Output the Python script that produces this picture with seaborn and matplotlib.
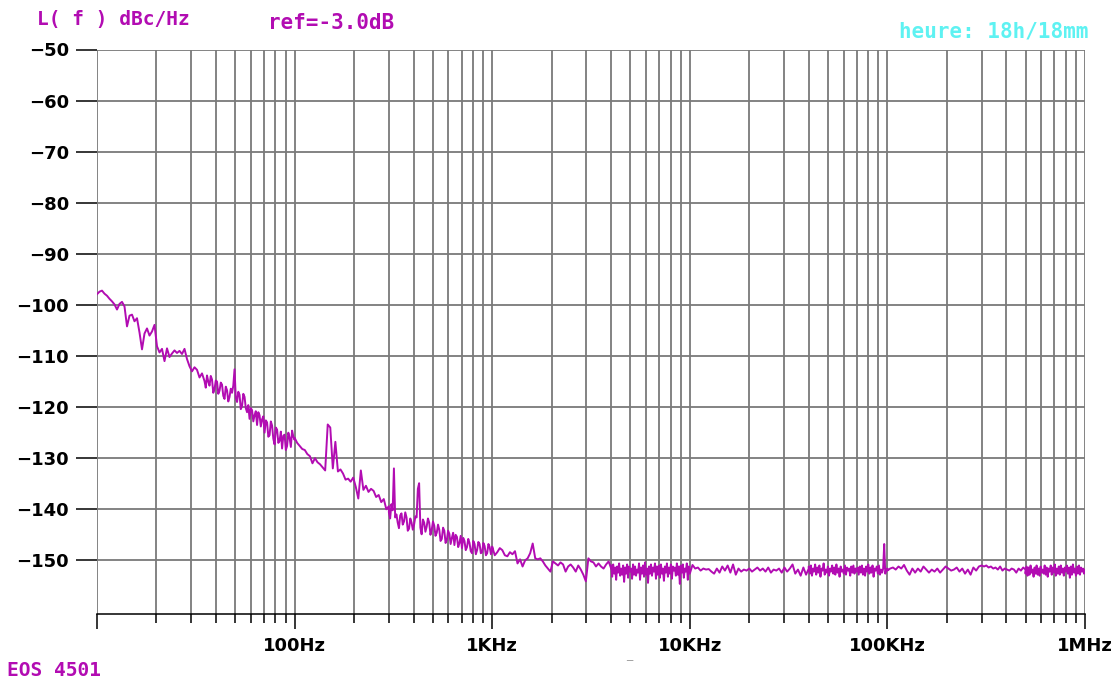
import matplotlib
matplotlib.use("Agg")
import matplotlib.pyplot as plt
import numpy as np
import pandas as pd
import seaborn as sns
from matplotlib.ticker import FixedLocator, LogLocator, NullFormatter

sns.set_theme(style="white")
plt.rcParams["font.family"] = ["DejaVu Sans"]

TRACE = "#b20cb2"
GRID = "#7a7a7a"

# phase noise trace
# (start Hz, stop Hz, levels in dBc/Hz swept evenly in log frequency)
seg_10_35 = [
    -97.9, -97.4, -97.2, -97.8, -98.2, -98.8, -99.3, -99.9, -100.9, -99.8,
    -99.4, -100.3, -104.2, -102.1, -101.9, -103.2, -102.6, -105.4, -108.7, -105.6,
    -104.6, -106.0, -105.2, -103.9, -108.1, -109.3, -108.6, -111.0, -108.5, -110.2,
    -109.5, -108.9, -109.4, -109.0, -109.6, -108.6, -110.6, -112.0, -113.0, -112.2,
    -112.7, -114.2, -113.4, -114.9,
]
seg_35_100 = [
    -114.9, -116.2, -113.8, -115.0, -115.8, -113.9, -114.6, -117.2, -116.5, -114.8,
    -115.0, -117.4, -116.8, -115.2, -115.6, -117.8, -118.4, -116.0, -116.7, -118.9,
    -118.0, -116.4, -117.2, -115.8, -112.6, -118.2, -119.0, -117.0, -117.6, -120.4,
    -119.8, -117.4, -118.0, -120.2, -121.0, -119.6, -122.3, -120.2, -120.6, -122.8,
    -121.6, -120.8, -123.5, -121.0, -121.6, -123.8, -122.4, -121.8, -125.0, -122.6,
    -123.0, -125.8, -125.5, -122.8, -123.6, -126.2, -127.3, -124.0, -124.4, -127.0,
    -126.6, -124.8, -128.1, -125.6, -125.4, -128.4, -127.6, -125.0, -126.0, -127.8,
    -124.6, -125.8, -126.4,
]
seg_100_300 = [
    -126.0, -127.0, -127.6, -128.2, -128.4, -129.2, -129.6, -131.0, -130.0, -130.8,
    -131.2, -131.8, -132.4, -123.4, -124.0, -132.0, -126.8, -132.6, -132.2, -133.0,
    -134.2, -134.0, -134.6, -133.8, -135.6, -137.9, -132.4, -136.2, -135.4, -136.6,
    -136.0, -136.4, -137.6, -137.2, -138.6, -138.0, -140.0, -139.4,
]
seg_300_1k = [
    -140.6, -141.8, -139.0, -140.2, -132.0, -141.6, -141.0, -142.6, -143.7, -141.2,
    -140.8, -143.0, -142.4, -140.6, -141.6, -144.2, -143.8, -141.8, -142.6, -144.0,
    -143.0, -141.4, -141.6, -136.0, -134.9, -143.6, -144.9, -142.0, -142.6, -144.4,
    -143.4, -141.8, -142.6, -145.0, -144.0, -142.4, -143.2, -145.2, -144.6, -143.0,
    -144.0, -146.2, -145.8, -143.6, -144.2, -146.6, -146.0, -144.2, -144.8, -146.8,
    -145.6, -144.6, -147.0, -145.0, -145.4, -147.4, -146.6, -145.2, -147.6, -145.6,
    -146.2, -148.0, -147.4, -145.8, -146.6, -148.2, -148.6, -146.2, -146.8, -148.8,
    -148.0, -146.4, -146.8, -148.6, -148.4, -146.6, -147.2, -149.0, -148.6, -146.8,
    -147.4, -148.8, -148.0,
]
seg_1k_4k = [
    -147.3, -149.0, -148.4, -147.6, -148.0, -149.0, -149.2, -148.4, -148.8, -148.2,
    -150.6, -149.8, -151.2, -150.0, -149.6, -148.6, -146.7, -149.6, -149.8, -149.6,
    -150.2, -151.0, -151.6, -152.2, -150.2, -150.6, -151.0, -150.4, -150.8, -152.2,
    -151.2, -150.8, -151.4, -152.2, -151.0, -151.8, -152.8, -154.1, -149.6, -150.2,
    -150.4, -151.2, -150.6, -151.2, -151.6, -150.8, -150.2, -151.6,
]
seg_4k_10k = [
    -151.0, -153.2, -150.8, -152.6, -151.4, -153.8, -151.2, -152.4, -150.6, -153.0,
    -151.6, -152.8, -151.0, -154.2, -151.4, -152.6, -150.8, -153.4, -151.2, -152.2,
    -151.6, -153.6, -150.8, -152.8, -151.2, -153.0, -151.8, -152.4, -150.6, -153.8,
    -151.4, -152.6, -151.0, -153.2, -150.4, -152.8, -151.6, -154.4, -151.2, -152.6,
    -150.8, -153.0, -151.4, -152.2, -150.6, -153.6, -151.2, -152.8, -151.0, -153.4,
    -150.8, -152.6, -151.6, -154.0, -151.2, -152.4, -150.6, -153.2, -151.4, -152.6,
    -150.8, -153.6, -151.2, -152.0, -151.4, -153.0, -150.6, -152.8, -151.2, -154.6,
    -151.0, -152.4, -150.8, -153.4, -151.6, -152.2, -150.6, -153.8, -151.2, -152.6,
]
seg_10k_40k = [
    -152.6, -150.9, -151.6, -151.4, -152.0, -151.6, -151.8, -151.7, -152.2, -152.6,
    -151.6, -152.4, -151.2, -152.0, -151.0, -152.4, -150.8, -152.8, -151.6, -152.2,
    -151.8, -152.0, -151.6, -152.2, -151.8, -151.4, -152.0, -151.6, -152.2, -151.4,
    -152.4, -151.8, -152.0, -151.6, -152.4, -151.4, -152.2, -151.6, -150.8, -152.6,
    -151.8, -153.0, -151.4, -152.8, -151.6,
]
seg_40k_100k = [
    -151.2, -152.6, -151.0, -153.0, -151.6, -152.2, -150.8, -152.8, -151.4, -152.4,
    -151.0, -153.2, -151.6, -152.0, -150.6, -152.8, -151.8, -152.4, -151.2, -153.0,
    -151.6, -152.2, -151.0, -152.6, -151.4, -152.8, -150.8, -152.4, -151.6, -153.2,
    -151.2, -152.2, -151.8, -152.6, -151.0, -152.8, -151.4, -152.0, -151.6, -153.0,
    -151.2, -152.4, -151.0, -152.6, -151.6, -152.2, -151.4, -152.8, -151.2, -152.4,
    -151.0, -152.8, -151.6, -153.0, -151.2, -152.2, -150.8, -152.6, -151.4, -152.4,
    -151.0, -153.2, -151.6, -152.0, -151.2, -152.6, -151.0, -152.8, -151.8, -152.4,
    -151.6, -146.8, -152.6, -151.8, -151.6,
]
seg_100k_300k = [
    -152.0, -151.6, -151.4, -151.8, -151.2, -151.6, -150.9, -152.0, -152.8, -151.6,
    -152.4, -151.6, -152.2, -151.2, -151.8, -152.4, -151.8, -152.2, -151.6, -152.4,
    -151.8, -151.2, -151.6, -152.0, -151.8, -151.4, -152.2, -151.6, -152.6, -151.8,
    -152.8, -151.4, -152.0, -151.2, -151.0,
]
seg_300k_500k = [
    -151.0, -151.2, -151.0, -151.4, -151.2, -151.6, -151.4, -151.8, -151.2, -152.0,
    -151.6, -151.8, -152.0, -151.6, -151.8, -152.4, -151.6, -152.0, -151.4, -151.8,
]
seg_500k_1m = [
    -152.6, -151.2, -153.0, -151.4, -152.8, -151.0, -152.4, -151.8, -153.2, -151.4,
    -152.6, -151.0, -152.8, -151.6, -153.0, -151.2, -152.4, -151.8, -152.6, -151.0,
    -152.8, -151.4, -153.2, -151.6, -152.2, -151.0, -152.8, -151.4, -152.4, -150.8,
    -153.0, -151.6, -152.6, -151.2, -152.8, -151.0, -152.4, -151.6, -153.0, -151.4,
    -152.2, -151.0, -152.6, -151.4, -153.4, -151.2, -152.8, -150.8, -152.4, -151.6,
    -153.0, -151.2, -152.6, -151.0, -152.8, -151.4, -152.2, -151.6, -152.6, -151.8,
]

segments = [
    (10, 35, seg_10_35),
    (35, 100, seg_35_100),
    (100, 300, seg_100_300),
    (300, 1e3, seg_300_1k),
    (1e3, 4e3, seg_1k_4k),
    (4e3, 1e4, seg_4k_10k),
    (1e4, 4e4, seg_10k_40k),
    (4e4, 1e5, seg_40k_100k),
    (1e5, 3e5, seg_100k_300k),
    (3e5, 5e5, seg_300k_500k),
    (5e5, 1e6, seg_500k_1m),
]

y_ticks = [-150, -140, -130, -120, -110, -100, -90, -80, -70, -60, -50]
x_major = [10, 100, 1e3, 1e4, 1e5, 1e6]
x_labels = ["", "100Hz", "1KHz", "10KHz", "100KHz", "1MHz"]

frames = []
for f0, f1, levels in segments:
    frames.append(pd.DataFrame({
        "freq": np.geomspace(f0, f1, len(levels)),
        "level": levels,
    }))
df = pd.concat(frames, ignore_index=True)

fig = plt.figure(figsize=(11.16, 6.79), dpi=100)
ax = fig.add_axes([97 / 1116, 1 - 613.5 / 679, 988 / 1116, 564 / 679])

sns.lineplot(data=df, x="freq", y="level", estimator=None, sort=False,
             color=TRACE, lw=1.4, ax=ax, zorder=3)

ax.set_xscale("log")
ax.set_xlim(10, 1e6)
ax.set_ylim(-160.4, -50)

ax.xaxis.set_major_locator(FixedLocator(x_major))
ax.set_xticks(x_major)
ax.set_xticklabels(x_labels)
ax.xaxis.set_minor_locator(LogLocator(base=10, subs=range(2, 10)))
ax.xaxis.set_minor_formatter(NullFormatter())
ax.set_yticks(y_ticks)
ax.set_yticklabels([f"\u2212{abs(v)}" for v in y_ticks])

ax.grid(True, which="both", axis="x", color=GRID, lw=1.3)
ax.grid(True, which="major", axis="y", color=GRID, lw=1.3)
ax.set_axisbelow(True)

for side in ["left", "right", "top"]:
    ax.spines[side].set_visible(False)
ax.spines["bottom"].set_color("black")
ax.spines["bottom"].set_linewidth(1.1)

ax.tick_params(axis="y", which="major", direction="out", length=15, width=1.1,
               color="black", pad=5, labelsize=13, left=True)
ax.tick_params(axis="x", which="major", direction="out", length=11, width=1.1,
               color="black", pad=6, labelsize=13, bottom=True)
ax.tick_params(axis="x", which="minor", direction="out", length=6.5, width=1.1,
               color="black", bottom=True)
for lab in ax.get_xticklabels() + ax.get_yticklabels():
    lab.set_fontweight("bold")
    lab.set_color("black")
ax.set_xlabel("")
ax.set_ylabel("")

head = {"family": "DejaVu Sans Mono", "weight": "bold", "size": 14}
fig.text(37 / 1116, 1 - 19 / 679, "L( f ) dBc/Hz", color=TRACE, va="center", ha="left", **head)
fig.text(268 / 1116, 1 - 22.7 / 679, "ref=-3.0dB", color=TRACE, va="center", ha="left",
         family="DejaVu Sans Mono", weight="bold", size=15)
fig.text(1088 / 1116, 1 - 31.7 / 679, "heure: 18h/18mm", color="#5ef2f2", va="center", ha="right",
         family="DejaVu Sans Mono", weight="bold", size=15)
fig.text(7 / 1116, 1 - 670 / 679, "EOS 4501", color=TRACE, va="center", ha="left", **head)
fig.text(629 / 1116, 1 - 655 / 679, "_", color="#a0a0a0", va="center", ha="center",
         family="DejaVu Sans", size=9)

fig.savefig("out.png", dpi=100)
